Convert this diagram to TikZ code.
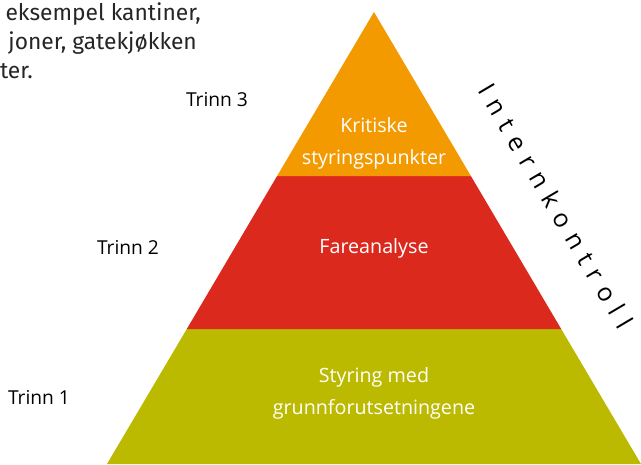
\documentclass[tikz,border=0pt]{standalone}
\usepackage{fontspec}
\setmainfont{Open Sans}
\newfontfamily\introfont{Fira Sans}
\newfontfamily\spacedfont{Open Sans}[LetterSpace=36.5]
\definecolor{toporange}{HTML}{F39A00}
\definecolor{midred}{HTML}{DC291E}
\definecolor{botolive}{HTML}{BBBA00}
\begin{document}
\begin{tikzpicture}[x=1pt,y=-1pt,
  inlabel/.style={text=white,font=\fontsize{19.7}{32}\selectfont,align=center,inner sep=0pt},
  steplabel/.style={text=black,font=\fontsize{19.2}{22}\selectfont,inner sep=0pt},
  introline/.style={text=black!85,font=\introfont\fontsize{22.8}{26}\selectfont,inner sep=0pt,anchor=base east}]
\useasboundingbox (0,0) rectangle (641,464);
\fill[white] (0,0) rectangle (641,464);
% pyramid layers
\fill[botolive] (186.8,329) -- (561.2,329) -- (641,464) -- (107,464) -- cycle;
\fill[midred] (277.1,176) -- (470.9,176) -- (561.2,329) -- (186.8,329) -- cycle;
\fill[toporange] (374,12) -- (470.9,176) -- (277.1,176) -- cycle;
% labels inside
\node[inlabel] (kcp) at (374,143) {Kritiske\\styringspunkter};
\node[inlabel] (fare) at (374,248) {Fareanalyse};
\node[inlabel] (grunn) at (374,393) {Styring med\\grunnforutsetningene};
% step labels
\node[steplabel] (t3) at (217,100) {Trinn 3};
\node[steplabel] (t2) at (128,247) {Trinn 2};
\node[steplabel] (t1) at (39,397) {Trinn 1};
% intro text (clipped paragraph)
\node[introline] (l1) at (201,20) {eksempel kantiner,};
\node[introline] (l2) at (197,49) {joner, gatekjøkken};
\node[introline] (l3) at (33,78) {ter.};
% side label
\node[font=\spacedfont\fontsize{25}{28}\selectfont,rotate=-59.4,inner sep=0pt] (ik) at (556,206) {Internkontroll};
\end{tikzpicture}
\end{document}
